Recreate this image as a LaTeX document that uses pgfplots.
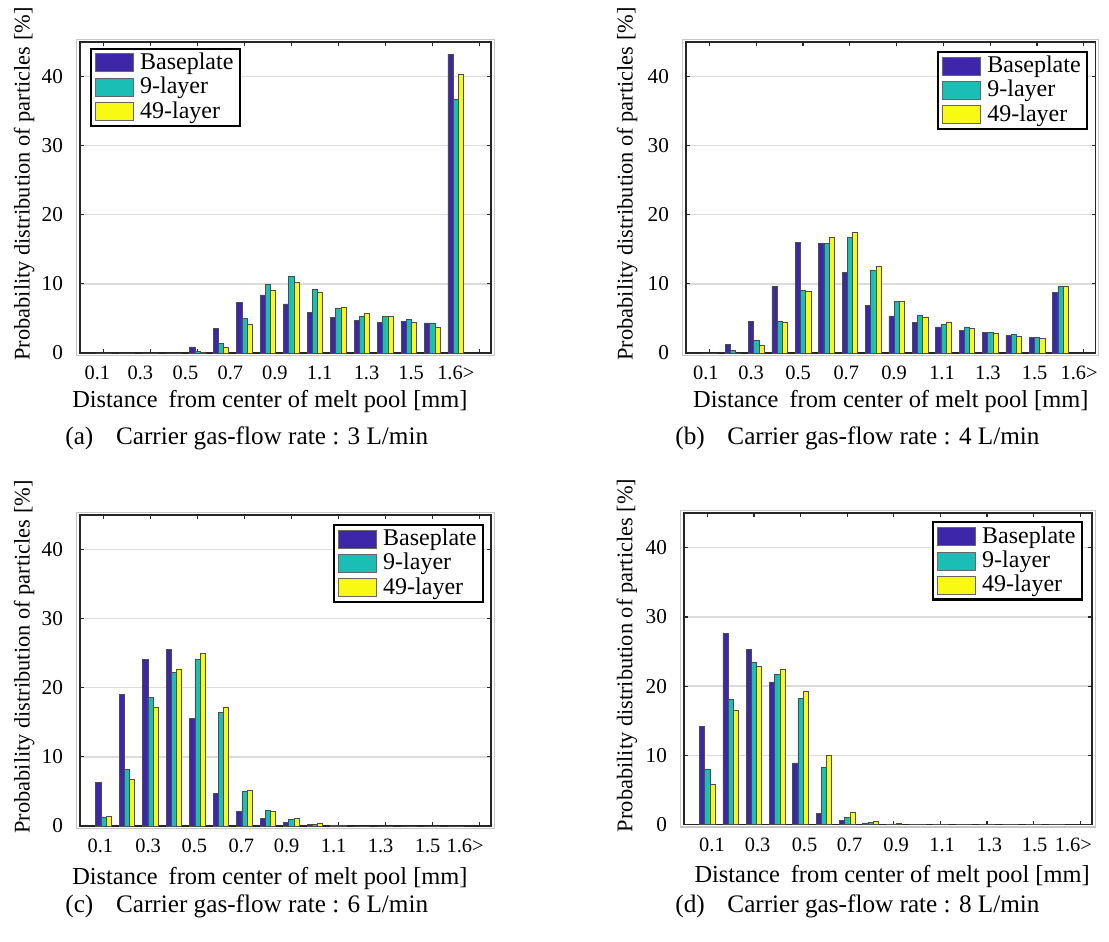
\documentclass[border=0pt]{standalone}
\usepackage{fontspec}
\setmainfont{Liberation Serif}
\usepackage{pgfplots}
\usepackage{pgfplotstable}
\pgfplotsset{compat=1.18}

\definecolor{cB}{RGB}{62,38,168}
\definecolor{cT}{RGB}{26,190,180}
\definecolor{cY}{RGB}{249,250,20}

\pgfplotstableread{
x B T Y
1 0 0 0
2 0 0 0
3 0 0 0
4 0 0 0
5 0.87 0.24 0.10
6 3.57 1.35 0.82
7 7.30 5.00 4.15
8 8.40 9.90 9.00
9 7.10 11.06 10.20
10 5.85 9.20 8.84
11 5.20 6.40 6.67
12 4.73 5.36 5.75
13 4.44 5.27 5.27
14 4.60 4.88 4.40
15 4.35 4.35 3.72
16 43.2 36.7 40.3
}\dataA

\pgfplotstableread{
x B T Y
1 0 0 0
2 1.20 0.34 0
3 4.54 1.84 1.06
4 9.60 4.60 4.44
5 16.0 9.13 8.90
6 15.85 15.85 16.7
7 11.6 16.7 17.4
8 6.90 11.9 12.6
9 5.36 7.50 7.40
10 4.44 5.40 5.20
11 3.77 4.15 4.44
12 3.24 3.77 3.57
13 2.95 2.95 2.80
14 2.56 2.70 2.37
15 2.20 2.20 2.08
16 8.80 9.66 9.60
}\dataB

\pgfplotstableread{
x B T Y
1 6.27 1.25 1.45
2 19.0 8.20 6.75
3 24.1 18.6 17.2
4 25.5 22.2 22.7
5 15.6 24.05 24.9
6 4.67 16.4 17.1
7 2.10 5.06 5.16
8 1.10 2.20 2.10
9 0.50 0.90 1.05
10 0.20 0.25 0.40
11 0.10 0.05 0.10
12 0 0 0
13 0 0 0
14 0 0 0
15 0 0 0
16 0 0 0
}\dataC

\pgfplotstableread{
x B T Y
1 14.2 8.05 5.80
2 27.6 18.1 16.5
3 25.35 23.5 22.9
4 20.6 21.7 22.45
5 8.90 18.2 19.2
6 1.64 8.30 9.93
7 0.58 1.00 1.73
8 0.24 0.34 0.48
9 0.05 0.10 0.24
10 0 0 0.05
11 0 0 0
12 0 0 0
13 0 0 0
14 0 0 0
15 0 0 0
16 0 0 0
}\dataD

\pgfplotsset{
  panel/.style={
    scale only axis, height=155.7pt,
    xmin=0, xmax=17.5, ymin=0, ymax=45,
    ybar=0pt, bar width=2.6pt,
    axis line style={black!85, line width=0.9pt},
    ytick={0,10,...,40},
    ymajorgrids, grid style={black!14, line width=0.7pt},
    xtick={1,3,...,17}, xticklabels={},
    tick align=inside, major tick length=2pt,
    tick style={black!85, line width=0.6pt},
    /pgf/number format/assume math mode=true,
    yticklabel style={font=\fontsize{10.6}{12}\selectfont, xshift=-5pt},
    extra x tick style={major tick length=0pt, xmajorgrids=false,
      tick label style={font=\fontsize{10.2}{12}\selectfont, yshift=-3pt}},
    ylabel={Probability distribution of particles [\%]},
    ylabel style={font=\fontsize{11.2}{13}\selectfont, anchor=center},
    xlabel={Distance\hspace{0.45em}from center of melt pool [mm]},
    xlabel style={font=\fontsize{12.2}{14}\selectfont, anchor=base},
    legend cell align=left,
    legend style={draw=black, line width=1.1pt, fill=white,
      font=\fontsize{12}{14}\selectfont, inner xsep=2pt, inner ysep=1pt,
      row sep=0pt,
      nodes={inner sep=1.2pt, text height=8.2pt, text depth=1.6pt},
      /tikz/every odd column/.append style={column sep=2pt}},
    after end axis/.code={
      \draw[black!22, line width=0.6pt] ([shift={(-1.6pt,-1.2pt)}]rel axis cs:0,0) rectangle ([shift={(1.6pt,1.2pt)}]rel axis cs:1,1);
    },
  },
  barB/.style={fill=cB, draw=black!70, line width=0.3pt,
    legend image code/.code={\draw[fill=cB, draw=black!60, line width=0.4pt] (0pt,-4.5pt) rectangle (19pt,4.5pt);}},
  barT/.style={fill=cT, draw=black!70, line width=0.3pt,
    legend image code/.code={\draw[fill=cT, draw=black!60, line width=0.4pt] (0pt,-4.5pt) rectangle (19pt,4.5pt);}},
  barY/.style={fill=cY, draw=black!70, line width=0.3pt,
    legend image code/.code={\draw[fill=cY, draw=black!60, line width=0.4pt] (0pt,-4.5pt) rectangle (19pt,4.5pt);}},
}

\begin{document}
\begin{tikzpicture}
\useasboundingbox (0,0) rectangle (554.5pt,-471pt);

% (a)
\begin{axis}[panel, width=205.5pt, at={(40pt,-176.5pt)}, anchor=south west,
  extra x ticks={0.74,2.57,4.49,6.4,8.3,10.2,12.2,14.1,16.0},
  extra x tick labels={0.1,0.3,0.5,0.7,0.9,1.1,1.3,1.5,1.6>},
  xlabel style={at={(axis description cs:0.462,0)}, yshift=-27pt},
  ylabel style={at={(axis description cs:-0.136,0.543)}},
  legend style={at={(axis description cs:0.024,0.981)}, anchor=north west}]
\addplot[barB, bar shift=-2.6pt] table[x=x,y=B]{\dataA};
\addplot[barT, bar shift=0pt] table[x=x,y=T]{\dataA};
\addplot[barY, bar shift=2.6pt] table[x=x,y=Y]{\dataA};
\legend{Baseplate,9-layer,49-layer}
\end{axis}

% (b)
\begin{axis}[panel, width=204.75pt, at={(343pt,-176.5pt)}, anchor=south west,
  extra x ticks={0.85,2.78,4.79,6.85,8.89,10.94,12.9,14.9,16.8},
  extra x tick labels={0.1,0.3,0.5,0.7,0.9,1.1,1.3,1.5,1.6>},
  xlabel style={at={(axis description cs:0.5,0)}, yshift=-27pt},
  ylabel style={at={(axis description cs:-0.144,0.543)}},
  legend style={at={(axis description cs:0.982,0.971)}, anchor=north east}]
\addplot[barB, bar shift=-2.6pt] table[x=x,y=B]{\dataB};
\addplot[barT, bar shift=0pt] table[x=x,y=T]{\dataB};
\addplot[barY, bar shift=2.6pt] table[x=x,y=Y]{\dataB};
\legend{Baseplate,9-layer,49-layer}
\end{axis}

% (c)
\begin{axis}[panel, width=205.5pt, at={(40pt,-413pt)}, anchor=south west,
  extra x ticks={0.87,2.9,4.87,6.87,8.8,10.8,12.8,14.8,16.4},
  extra x tick labels={0.1,0.3,0.5,0.7,0.9,1.1,1.3,1.5,1.6>},
  xlabel style={at={(axis description cs:0.462,0)}, yshift=-29pt},
  ylabel style={at={(axis description cs:-0.136,0.543)}},
  legend style={at={(axis description cs:0.983,0.971)}, anchor=north east}]
\addplot[barB, bar shift=-2.6pt] table[x=x,y=B]{\dataC};
\addplot[barT, bar shift=0pt] table[x=x,y=T]{\dataC};
\addplot[barY, bar shift=2.6pt] table[x=x,y=Y]{\dataC};
\legend{Baseplate,9-layer,49-layer}
\end{axis}

% (d)
\begin{axis}[panel, width=204pt, at={(342pt,-412.25pt)}, anchor=south west,
  extra x ticks={1.2,3.16,5.17,7.1,9.1,11.07,13.1,15.04,16.7},
  extra x tick labels={0.1,0.3,0.5,0.7,0.9,1.1,1.3,1.5,1.6>},
  xlabel style={at={(axis description cs:0.51,0)}, yshift=-29pt},
  ylabel style={at={(axis description cs:-0.14,0.543)}},
  legend style={at={(axis description cs:0.978,0.974)}, anchor=north east}]
\addplot[barB, bar shift=-2.6pt] table[x=x,y=B]{\dataD};
\addplot[barT, bar shift=0pt] table[x=x,y=T]{\dataD};
\addplot[barY, bar shift=2.6pt] table[x=x,y=Y]{\dataD};
\legend{Baseplate,9-layer,49-layer}
\end{axis}

\node[anchor=west, font=\fontsize{12.6}{14}\selectfont, inner sep=0pt] at (32.5pt,-219pt) {(a)\hspace{0.9em}Carrier gas-flow rate : 3 L/min};
\node[anchor=west, font=\fontsize{12.6}{14}\selectfont, inner sep=0pt] at (337.5pt,-219pt) {(b)\hspace{0.9em}Carrier gas-flow rate : 4 L/min};
\node[anchor=west, font=\fontsize{12.6}{14}\selectfont, inner sep=0pt] at (32.5pt,-453pt) {(c)\hspace{0.9em}Carrier gas-flow rate : 6 L/min};
\node[anchor=west, font=\fontsize{12.6}{14}\selectfont, inner sep=0pt] at (337.5pt,-453pt) {(d)\hspace{0.9em}Carrier gas-flow rate : 8 L/min};
\end{tikzpicture}
\end{document}
